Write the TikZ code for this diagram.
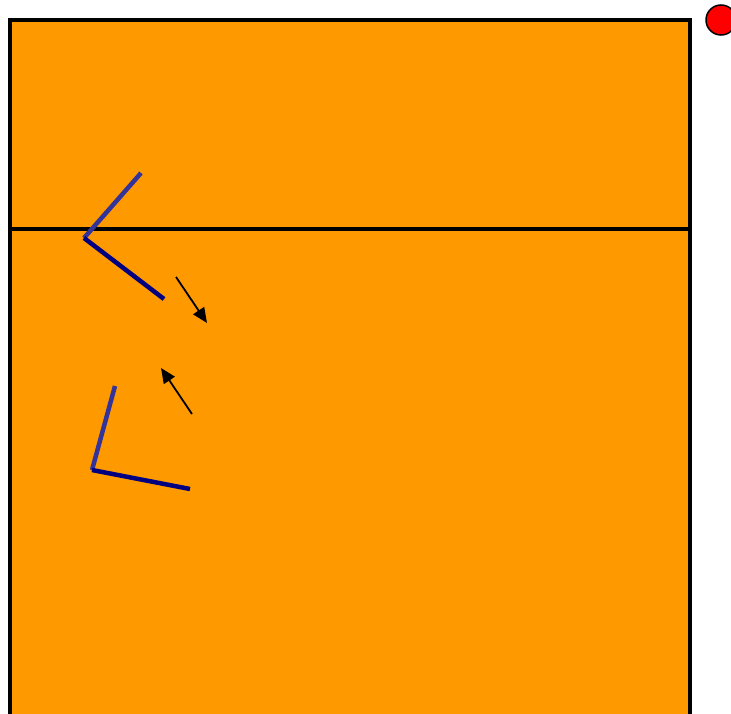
\documentclass[tikz,border=0pt]{standalone}
\usetikzlibrary{arrows.meta}
\definecolor{court}{HTML}{FF9900}
\definecolor{lightarm}{HTML}{333399}
\definecolor{darkarm}{HTML}{000080}
\tikzset{
  courtline/.style={draw=black, line width=4pt},
  armlight/.style={draw=lightarm, line width=4.5pt},
  armdark/.style={draw=darkarm, line width=4.5pt},
  move/.style={draw=black, line width=1.8pt, -{Triangle[length=15pt,width=13pt]}},
}
\begin{document}
\begin{tikzpicture}[x=1pt,y=-1pt]
\useasboundingbox (0,0) rectangle (731,714);
\begin{scope}
\clip (0,0) rectangle (731,714);
\fill[court] (10,20) rectangle (690,730);
\draw[courtline] (10,730) -- (10,20) -- (690,20) -- (690,730);
\draw[courtline] (10,229) -- (690,229);
\node[circle, fill=red, draw=black, line width=1.5pt, minimum size=30pt, inner sep=0pt] (ball) at (721,20) {};
% upper block
\coordinate (u1) at (141,173);
\coordinate (u2) at (84,238);
\coordinate (u3) at (164,299);
\draw[armlight] (u1) -- (u2);
\draw[armdark] (u2) -- (u3);
% lower block
\coordinate (l1) at (115,386);
\coordinate (l2) at (92,470);
\coordinate (l3) at (190,489);
\draw[armlight] (l1) -- (l2);
\draw[armdark] (l2) -- (l3);
% arrows
\coordinate (a1s) at (176,277);
\coordinate (a1e) at (207,323);
\coordinate (a2s) at (192,414);
\coordinate (a2e) at (161,368);
\draw[move] (a1s) -- (a1e);
\draw[move] (a2s) -- (a2e);
\end{scope}
\end{tikzpicture}
\end{document}
